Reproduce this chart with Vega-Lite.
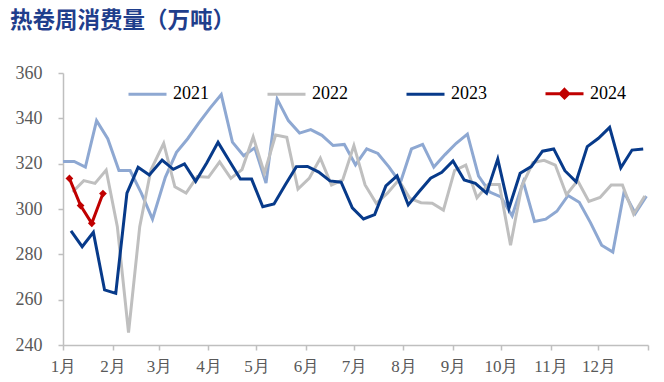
{
  "$schema": "https://vega.github.io/schema/vega-lite/v6.json",
  "width": 585,
  "height": 272,
  "autosize": {"type": "none"},
  "padding": {"left": 63, "top": 73, "right": 16, "bottom": 37},
  "background": "#ffffff",
  "title": {"text": "热卷周消费量（万吨）", "anchor": "start", "frame": "group", "dx": -53, "offset": 14, "font": "Noto Sans CJK SC", "fontSize": 22.5, "fontWeight": "bold", "color": "#1F3E8C", "baseline": "alphabetic"},
  "config": {"view": {"stroke": null}},
  "data": {"values": [
    {"year":"2021","date":"2021-01-01","v":321},{"year":"2021","date":"2021-01-08","v":321},{"year":"2021","date":"2021-01-15","v":318.5},{"year":"2021","date":"2021-01-22","v":339},{"year":"2021","date":"2021-01-29","v":331},{"year":"2021","date":"2021-02-05","v":317},{"year":"2021","date":"2021-02-12","v":317},{"year":"2021","date":"2021-02-19","v":307},{"year":"2021","date":"2021-02-26","v":295.5},{"year":"2021","date":"2021-03-05","v":314},{"year":"2021","date":"2021-03-12","v":325},{"year":"2021","date":"2021-03-19","v":331},{"year":"2021","date":"2021-03-26","v":338},{"year":"2021","date":"2021-04-02","v":344.5},{"year":"2021","date":"2021-04-09","v":350.5},{"year":"2021","date":"2021-04-16","v":329.5},{"year":"2021","date":"2021-04-23","v":323.5},{"year":"2021","date":"2021-04-30","v":327},{"year":"2021","date":"2021-05-07","v":311.5},{"year":"2021","date":"2021-05-14","v":348.5},{"year":"2021","date":"2021-05-21","v":339},{"year":"2021","date":"2021-05-28","v":333.5},{"year":"2021","date":"2021-06-04","v":335},{"year":"2021","date":"2021-06-11","v":332.5},{"year":"2021","date":"2021-06-18","v":328},{"year":"2021","date":"2021-06-25","v":328.5},{"year":"2021","date":"2021-07-02","v":319.5},{"year":"2021","date":"2021-07-09","v":326.5},{"year":"2021","date":"2021-07-16","v":324.5},{"year":"2021","date":"2021-07-23","v":318.5},{"year":"2021","date":"2021-07-30","v":311.5},{"year":"2021","date":"2021-08-06","v":326.5},{"year":"2021","date":"2021-08-13","v":328.5},{"year":"2021","date":"2021-08-20","v":318.5},{"year":"2021","date":"2021-08-27","v":324},{"year":"2021","date":"2021-09-03","v":329},{"year":"2021","date":"2021-09-10","v":333},{"year":"2021","date":"2021-09-17","v":314.5},{"year":"2021","date":"2021-09-24","v":307.5},{"year":"2021","date":"2021-10-01","v":305.3},{"year":"2021","date":"2021-10-08","v":297},{"year":"2021","date":"2021-10-15","v":312},{"year":"2021","date":"2021-10-22","v":294.5},{"year":"2021","date":"2021-10-29","v":295.5},{"year":"2021","date":"2021-11-05","v":299},{"year":"2021","date":"2021-11-12","v":306},{"year":"2021","date":"2021-11-19","v":303},{"year":"2021","date":"2021-11-26","v":294},{"year":"2021","date":"2021-12-03","v":284},{"year":"2021","date":"2021-12-10","v":281},{"year":"2021","date":"2021-12-17","v":307.5},{"year":"2021","date":"2021-12-24","v":298},{"year":"2021","date":"2021-12-31","v":305.7},
    {"year":"2022","date":"2022-01-07","v":307.5},{"year":"2022","date":"2022-01-14","v":312.5},{"year":"2022","date":"2022-01-21","v":311.3},{"year":"2022","date":"2022-01-28","v":317.2},{"year":"2022","date":"2022-02-04","v":292.2},{"year":"2022","date":"2022-02-11","v":245.5},{"year":"2022","date":"2022-02-18","v":292.2},{"year":"2022","date":"2022-02-25","v":317.2},{"year":"2022","date":"2022-03-04","v":329},{"year":"2022","date":"2022-03-11","v":309.8},{"year":"2022","date":"2022-03-18","v":307},{"year":"2022","date":"2022-03-25","v":314.3},{"year":"2022","date":"2022-04-01","v":314},{"year":"2022","date":"2022-04-08","v":320.8},{"year":"2022","date":"2022-04-15","v":313.5},{"year":"2022","date":"2022-04-22","v":317.4},{"year":"2022","date":"2022-04-29","v":331.8},{"year":"2022","date":"2022-05-06","v":315.8},{"year":"2022","date":"2022-05-13","v":332.6},{"year":"2022","date":"2022-05-20","v":331.6},{"year":"2022","date":"2022-05-27","v":308.8},{"year":"2022","date":"2022-06-03","v":313.5},{"year":"2022","date":"2022-06-10","v":322.4},{"year":"2022","date":"2022-06-17","v":310.6},{"year":"2022","date":"2022-06-24","v":312.8},{"year":"2022","date":"2022-07-01","v":328},{"year":"2022","date":"2022-07-08","v":310.6},{"year":"2022","date":"2022-07-15","v":302.5},{"year":"2022","date":"2022-07-22","v":307},{"year":"2022","date":"2022-07-29","v":312.8},{"year":"2022","date":"2022-08-05","v":304.7},{"year":"2022","date":"2022-08-12","v":302.8},{"year":"2022","date":"2022-08-19","v":302.5},{"year":"2022","date":"2022-08-26","v":299.5},{"year":"2022","date":"2022-09-02","v":317},{"year":"2022","date":"2022-09-09","v":319.4},{"year":"2022","date":"2022-09-16","v":305},{"year":"2022","date":"2022-09-23","v":310.8},{"year":"2022","date":"2022-09-30","v":310.8},{"year":"2022","date":"2022-10-07","v":284},{"year":"2022","date":"2022-10-14","v":310},{"year":"2022","date":"2022-10-21","v":320.5},{"year":"2022","date":"2022-10-28","v":321.5},{"year":"2022","date":"2022-11-04","v":319.4},{"year":"2022","date":"2022-11-11","v":306.3},{"year":"2022","date":"2022-11-18","v":312.5},{"year":"2022","date":"2022-11-25","v":303.3},{"year":"2022","date":"2022-12-02","v":305.1},{"year":"2022","date":"2022-12-09","v":310.6},{"year":"2022","date":"2022-12-16","v":310.6},{"year":"2022","date":"2022-12-23","v":297.7},{"year":"2022","date":"2022-12-30","v":305.7},
    {"year":"2023","date":"2023-01-06","v":290.3},{"year":"2023","date":"2023-01-13","v":283.4},{"year":"2023","date":"2023-01-20","v":289.7},{"year":"2023","date":"2023-01-27","v":264.3},{"year":"2023","date":"2023-02-03","v":262.8},{"year":"2023","date":"2023-02-10","v":307},{"year":"2023","date":"2023-02-17","v":318.4},{"year":"2023","date":"2023-02-24","v":315},{"year":"2023","date":"2023-03-03","v":321.6},{"year":"2023","date":"2023-03-10","v":317.5},{"year":"2023","date":"2023-03-17","v":319.9},{"year":"2023","date":"2023-03-24","v":312.2},{"year":"2023","date":"2023-03-31","v":320.4},{"year":"2023","date":"2023-04-07","v":329.4},{"year":"2023","date":"2023-04-14","v":321.3},{"year":"2023","date":"2023-04-21","v":313.2},{"year":"2023","date":"2023-04-28","v":313.2},{"year":"2023","date":"2023-05-05","v":301},{"year":"2023","date":"2023-05-12","v":302.2},{"year":"2023","date":"2023-05-19","v":310.6},{"year":"2023","date":"2023-05-26","v":318.7},{"year":"2023","date":"2023-06-02","v":318.8},{"year":"2023","date":"2023-06-09","v":316.3},{"year":"2023","date":"2023-06-16","v":312.4},{"year":"2023","date":"2023-06-23","v":311.8},{"year":"2023","date":"2023-06-30","v":300.5},{"year":"2023","date":"2023-07-07","v":295.6},{"year":"2023","date":"2023-07-14","v":297.5},{"year":"2023","date":"2023-07-21","v":310.2},{"year":"2023","date":"2023-07-28","v":314.6},{"year":"2023","date":"2023-08-04","v":301.8},{"year":"2023","date":"2023-08-11","v":307.8},{"year":"2023","date":"2023-08-18","v":313.6},{"year":"2023","date":"2023-08-25","v":316.2},{"year":"2023","date":"2023-09-01","v":321.2},{"year":"2023","date":"2023-09-08","v":312.8},{"year":"2023","date":"2023-09-15","v":311.3},{"year":"2023","date":"2023-09-22","v":307},{"year":"2023","date":"2023-09-29","v":322},{"year":"2023","date":"2023-10-06","v":300.3},{"year":"2023","date":"2023-10-13","v":315.8},{"year":"2023","date":"2023-10-20","v":318.7},{"year":"2023","date":"2023-10-27","v":325.5},{"year":"2023","date":"2023-11-03","v":326.5},{"year":"2023","date":"2023-11-10","v":316.9},{"year":"2023","date":"2023-11-17","v":312},{"year":"2023","date":"2023-11-24","v":327.5},{"year":"2023","date":"2023-12-01","v":331.2},{"year":"2023","date":"2023-12-08","v":336},{"year":"2023","date":"2023-12-15","v":318.2},{"year":"2023","date":"2023-12-22","v":326},{"year":"2023","date":"2023-12-29","v":326.5},
    {"year":"2024","date":"2024-01-05","v":313.5},{"year":"2024","date":"2024-01-12","v":301.5},{"year":"2024","date":"2024-01-19","v":293.7},{"year":"2024","date":"2024-01-26","v":306.8}
  ]},
  "layer": [
    {
      "mark": {"type": "line", "strokeWidth": 3},
      "encoding": {
        "x": {"field": "date", "timeUnit": "utcmonthdate", "type": "temporal",
          "scale": {"domain": [{"year": 2012, "month": 1, "date": 1, "utc": true}, {"year": 2013, "month": 1, "date": 1, "utc": true}]},
          "axis": {"values": [{"year": 2012, "month": 1, "date": 1, "utc": true},{"year": 2012, "month": 2, "date": 1, "utc": true},{"year": 2012, "month": 3, "date": 1, "utc": true},{"year": 2012, "month": 4, "date": 1, "utc": true},{"year": 2012, "month": 5, "date": 1, "utc": true},{"year": 2012, "month": 6, "date": 1, "utc": true},{"year": 2012, "month": 7, "date": 1, "utc": true},{"year": 2012, "month": 8, "date": 1, "utc": true},{"year": 2012, "month": 9, "date": 1, "utc": true},{"year": 2012, "month": 10, "date": 1, "utc": true},{"year": 2012, "month": 11, "date": 1, "utc": true},{"year": 2012, "month": 12, "date": 1, "utc": true},{"year": 2013, "month": 1, "date": 1, "utc": true}],
            "labelExpr": "utcyear(datum.value) > 2012 ? '' : (utcmonth(datum.value) + 1) + '月'",
            "title": null, "grid": false, "domainColor": "#BFBFBF", "domainWidth": 1.5, "tickColor": "#BFBFBF", "tickWidth": 1.5, "tickSize": 5,
            "labelFont": "Liberation Serif", "labelFontSize": 17, "labelColor": "#595959", "labelPadding": 8, "labelFlush": false, "labelOverlap": false}},
        "y": {"field": "v", "type": "quantitative", "scale": {"domain": [240, 360], "nice": false, "zero": false},
          "axis": {"values": [240, 260, 280, 300, 320, 340, 360], "title": null, "grid": false, "domainColor": "#BFBFBF", "domainWidth": 1.5, "tickColor": "#BFBFBF", "tickWidth": 1.5, "tickSize": 5,
            "labelFont": "Liberation Serif", "labelFontSize": 18, "labelColor": "#595959", "labelPadding": 16}},
        "color": {"field": "year", "type": "nominal",
          "scale": {"domain": ["2021", "2022", "2023", "2024"], "range": ["#8EA8D2", "#BFBFBF", "#073A8A", "#C00000"]},
          "legend": {"orient": "none", "legendX": 64, "legendY": 0, "direction": "horizontal", "title": null, "padding": 0,
            "symbolType": "stroke", "symbolSize": 1444, "symbolStrokeWidth": 3, "labelFont": "Liberation Serif", "labelFontSize": 18, "labelColor": "#000000", "labelOffset": 5, "columnPadding": 52,
            "encode": {"symbols": {"update": {
              "shape": {"signal": "datum.value === '2024' ? 'M-1,0H1M0,-0.22L0.22,0L0,0.22L-0.22,0Z' : 'stroke'"},
              "fill": {"signal": "datum.value === '2024' ? '#C00000' : 'transparent'"}}}}}}
      }
    },
    {
      "transform": [{"filter": "datum.year == '2024'"}],
      "mark": {"type": "point", "shape": "diamond", "filled": true, "size": 60, "opacity": 1},
      "encoding": {
        "x": {"field": "date", "timeUnit": "utcmonthdate", "type": "temporal"},
        "y": {"field": "v", "type": "quantitative"},
        "color": {"field": "year", "type": "nominal", "legend": null}
      }
    }
  ]
}
